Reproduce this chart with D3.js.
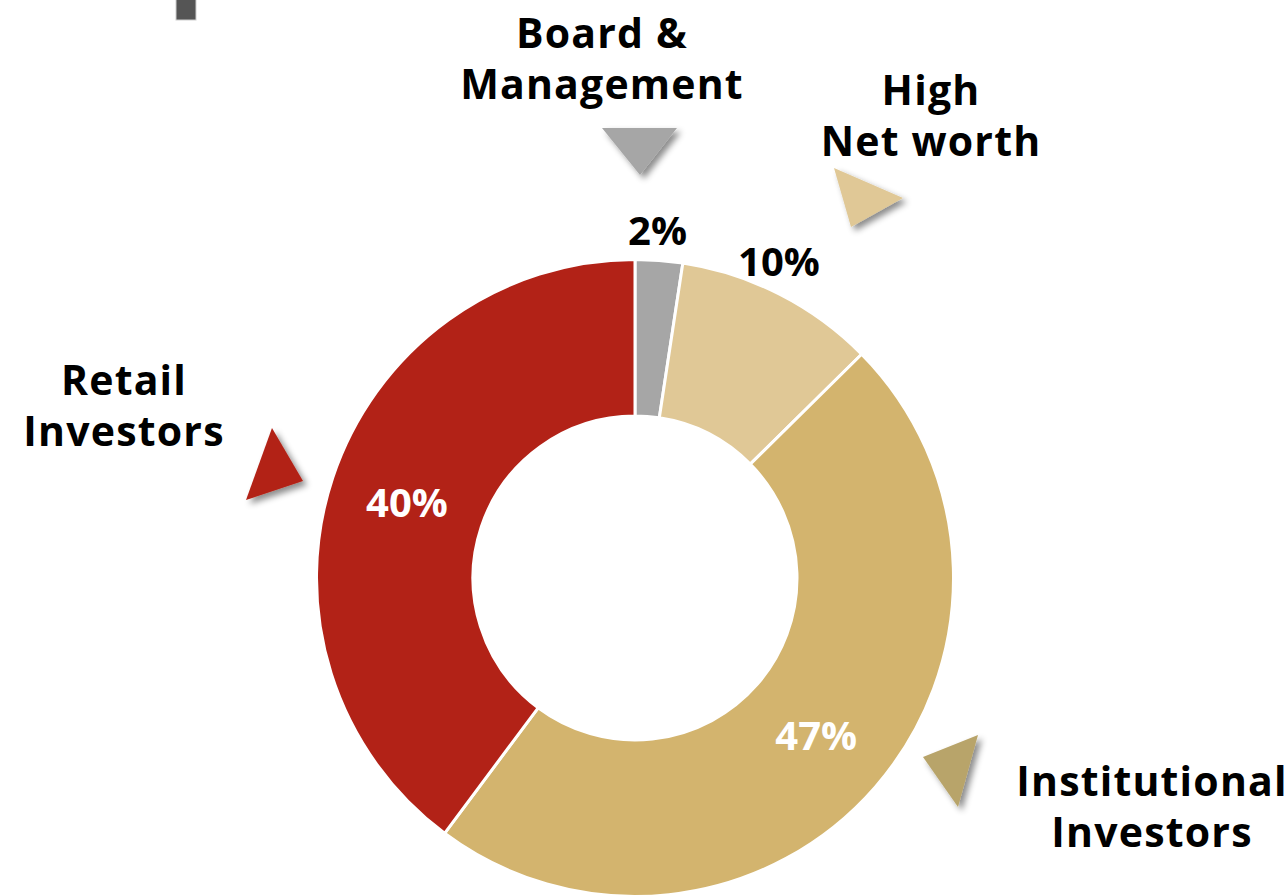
<!DOCTYPE html>
<html>
<head>
<meta charset="utf-8">
<script src="https://cdn.jsdelivr.net/npm/d3@7"></script>
<style>
  html, body { margin: 0; padding: 0; background: #fff; }
  svg { display: block; }
  text { font-family: "Open Sans", sans-serif; font-weight: 700; }
</style>
</head>
<body>
<div id="chart"></div>
<script>
(function() {

// shares (going clockwise from 12 o'clock)
var categories = ['Board & Management', 'High Net worth', 'Institutional Investors', 'Retail Investors'];
var shares = [2.4, 10.2, 47.6, 39.8];
var pctLabels = ['2%', '10%', '47%', '40%'];
var nameLines = [['Board &', 'Management'], ['High', 'Net worth'], ['Institutional', 'Investors'], ['Retail', 'Investors']];
var colors = ['#a6a6a6', '#e0c896', '#d3b46e', '#b22217'];
var markerColors = ['#a6a6a6', '#e0c896', '#b8a46a', '#b22217'];

var width = 1288, height = 896;
var cx = 635, cy = 578, outerR = 318.5, innerR = 162;

var svg = d3.select('#chart').append('svg')
    .attr('width', width)
    .attr('height', height);

var defs = svg.append('defs');
var f = defs.append('filter').attr('id', 'shadow')
    .attr('x', '-30%').attr('y', '-30%').attr('width', '160%').attr('height', '160%');
f.append('feDropShadow').attr('dx', 4).attr('dy', 4).attr('stdDeviation', 3)
    .attr('flood-color', '#000').attr('flood-opacity', 0.45);

// small dark block at top left
svg.append('rect')
    .attr('x', 176).attr('y', -2).attr('width', 20).attr('height', 22)
    .attr('fill', '#555555').attr('stroke', '#cfcfcf').attr('stroke-width', 1);

var data = categories.map(function(c, i) {
  return {name: c, value: shares[i], pct: pctLabels[i], lines: nameLines[i], color: colors[i], marker: markerColors[i]};
});

var pie = d3.pie().sort(null).value(function(d) { return d.value; });
var arcs = pie(data);

var arc = d3.arc().innerRadius(innerR).outerRadius(outerR);
var g = svg.append('g').attr('transform', 'translate(' + cx + ',' + cy + ')');

g.selectAll('path.slice')
    .data(arcs)
  .enter().append('path')
    .attr('class', 'slice')
    .attr('d', arc)
    .attr('fill', function(d) { return d.data.color; })
    .attr('stroke', '#fff')
    .attr('stroke-width', 3)
    .attr('stroke-linejoin', 'round');

// percentage labels: inside the ring for the big slices, outside for small ones
function labelPos(d) {
  if (d.data.value >= 15) return arc.centroid(d);
  var a = d.startAngle + 0.43 * (d.endAngle - d.startAngle), r = 348;
  return [r * Math.sin(a), -r * Math.cos(a)];
}

g.selectAll('text.pct')
    .data(arcs)
  .enter().append('text')
    .attr('class', 'pct')
    .attr('transform', function(d) { return 'translate(' + labelPos(d) + ')'; })
    .attr('text-anchor', 'middle')
    .attr('dy', '0.36em')
    .attr('font-size', 40)
    .attr('fill', function(d) { return d.data.value < 15 ? '#000' : '#fff'; })
    .text(function(d) { return d.data.pct; });

// category names with triangle markers
var namePos = [[602, 48], [931, 105], [1152, 796], [124, 395]];
var triangles = [
  [[602, 128], [677, 128], [640, 175]],
  [[834, 168], [903, 198], [851, 227]],
  [[923, 757], [978, 735], [958, 807]],
  [[272, 428], [303, 481], [246, 500]]
];

svg.selectAll('path.marker')
    .data(data)
  .enter().append('path')
    .attr('class', 'marker')
    .attr('d', function(d, i) { return d3.line()(triangles[i]) + 'Z'; })
    .attr('fill', function(d) { return d.marker; })
    .attr('filter', 'url(#shadow)');

var names = svg.selectAll('text.name')
    .data(data)
  .enter().append('text')
    .attr('class', 'name')
    .attr('text-anchor', 'middle')
    .attr('font-size', 41)
    .attr('letter-spacing', 1.2)
    .attr('fill', '#000')
    .attr('x', function(d, i) { return namePos[i][0]; })
    .attr('y', function(d, i) { return namePos[i][1]; });

names.selectAll('tspan')
    .data(function(d, i) { return d.lines.map(function(l) { return {t: l, x: namePos[i][0]}; }); })
  .enter().append('tspan')
    .attr('x', function(d) { return d.x; })
    .attr('dy', function(d, j) { return j === 0 ? 0 : 51; })
    .text(function(d) { return d.t; });

})();
</script>
</body>
</html>
